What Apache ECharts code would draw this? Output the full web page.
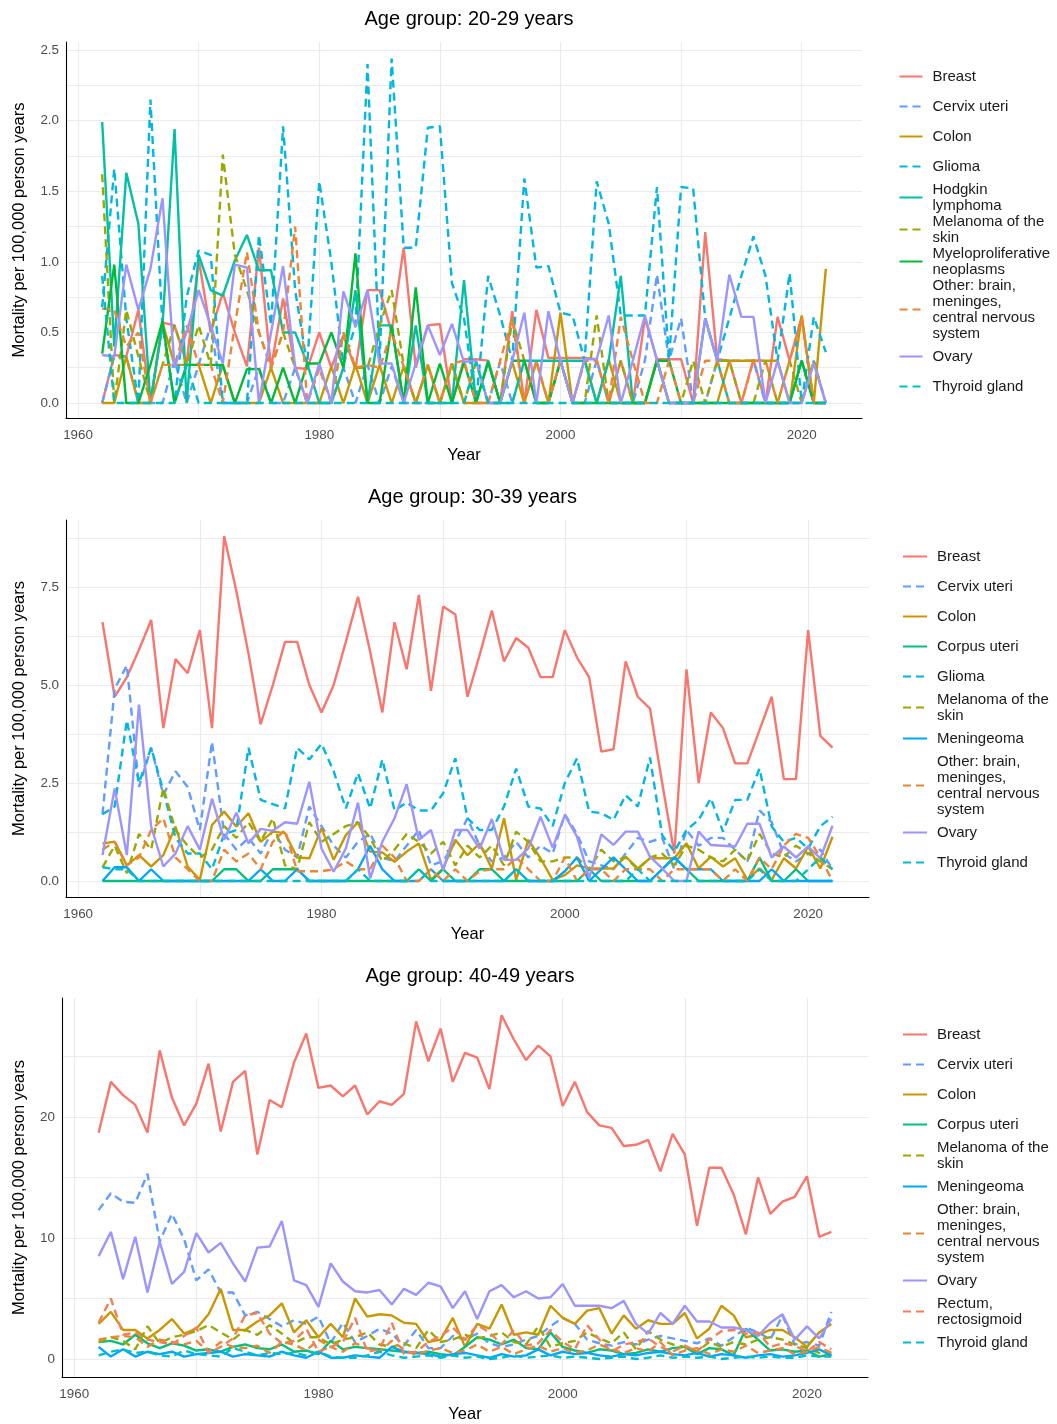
<!DOCTYPE html>
<html><head><meta charset="utf-8">
<script src="https://cdn.jsdelivr.net/npm/echarts@6/dist/echarts.min.js"></script>
<style>html,body{margin:0;padding:0;background:#fff}#chart{width:1057px;height:1424px}</style>
</head><body><div id="chart"></div>
<script>
// ---------- DATA ----------
const years = [1962,1963,1964,1965,1966,1967,1968,1969,1970,1971,1972,1973,1974,1975,1976,1977,1978,1979,1980,1981,
1982,1983,1984,1985,1986,1987,1988,1989,1990,1991,1992,1993,1994,1995,1996,1997,1998,1999,2000,2001,
2002,2003,2004,2005,2006,2007,2008,2009,2010,2011,2012,2013,2014,2015,2016,2017,2018,2019,2020,2021,2022];

const panelTitles = ['Age group: 20-29 years', 'Age group: 30-39 years', 'Age group: 40-49 years'];
const xTickLabels = [1960, 1980, 2000, 2020];
const yTickLabels1 = [0, 0.5, 1, 1.5, 2, 2.5];
const yTickLabels2 = [0, 2.5, 5, 7.5];
const yTickLabels3 = [0, 10, 20];

// Panel 1: 20-29 years
const p1_breast = [0,0.34,0.33,0.66,0,0.57,0.55,0.28,1.02,0.5, 0.78,0.5,0.26,1.1,0.25,0.74,0.25,0.24,0.5,0.25, 0.48,0.24,0.8,0.8,0.5,1.1,0.25,0.55,0.56,0, 0.31,0.31,0.3,0,0.65,0,0.66,0.32,0.32,0.32, 0.32,0.31,0,0.3,0,0.6,0.31,0.31,0.31,0, 1.21,0.31,0.3,0,0.31,0,0.61,0.3,0.61,0,0];
const p1_cervix = [0,0.33,0.33,0,0,0,0.3,0,0.27,0.55, 0,0,0,0.25,0,0,0.25,0,0,0, 0.25,0,0.27,0,0.26,0,0,0,0,0.28, 0,0,0,0.29,0,0.3,0,0,0.3,0, 0,0.3,0,0,0,0.3,0.91,0.3,0.6,0, 0,0.3,0.3,0.3,0.3,0,0,0,0,0.3,0];
const p1_colon = [0,0,0.33,0,0,0.57,0.27,0.27,0.27,0, 0.27,0,0,0,0.25,0,0,0,0,0.26, 0,0.27,0,0.27,0,0.26,0,0.27,0,0.28, 0,0,0,0,0.29,0,0.29,0,0.64,0, 0.31,0,0.31,0,0,0,0.31,0,0,0, 0,0,0.3,0.3,0.3,0.3,0.3,0,0.62,0,0.95];
const p1_glioma = [0.68,1.66,0.6,0,2.15,0.55,0,0.75,1.08,1.05, 0,0,0,1.19,0.55,1.96,0.8,0.27,1.57,1.0, 0.27,0.55,2.4,0.3,2.44,1.1,1.1,1.95,1.96,0.85, 0.6,0,0.9,0.62,0.3,1.59,0.96,0.97,0.64,0.62, 0.3,1.57,1.27,0.62,0.62,0.62,1.53,0.31,1.53,1.52, 0.6,0.3,0.6,0.9,1.18,0.9,0.3,0.92,0,0.61,0.36];
const p1_hodgkin = [1.99,0.4,1.63,1.27,0,0.55,1.94,0,1.05,0.8, 0.76,1.01,1.19,0.94,0.94,0.5,0.5,0.28,0,0, 0.25,0.8,0,0.55,0.55,0,0.55,0,0,0, 0.87,0,0.3,0,0,0.3,0.3,0.3,0.3,0.3, 0.3,0,0.3,0.9,0,0,0.3,0,0,0, 0.6,0.3,0,0,0,0,0,0,0.3,0,0];
const p1_melanoma = [1.62,0,0.66,0.33,0,0.27,0.55,0.27,0.55,0.27, 1.76,1.05,0.8,0.5,0.25,0.5,0.25,0,0.25,0, 0.5,0.25,0.25,0.55,0.8,0.27,0,0.27,0,0.27, 0,0.29,0,0,0.59,0.3,0,0,0.3,0, 0,0.62,0,0.3,0,0,0.3,0,0,0.3, 0,0.3,0.3,0,0,0.3,0,0.3,0,0.3,0];
const p1_myelo = [0.35,0.98,0,0,0.27,0.58,0,0.27,0.27,0.27, 0.27,0,0.24,0.24,0,0.25,0,0.28,0.28,0.5, 0.25,1.06,0,0,0.55,0,0.82,0,0.28,0, 0.29,0,0.29,0,0.3,0.3,0,0,0.3,0, 0,0,0,0,0,0,0.3,0.3,0,0, 0,0,0,0,0,0,0,0,0.3,0,0];
const p1_other = [0.67,0.66,0.4,0.5,0,0.27,0.27,0.55,0.27,0.27, 0,0.55,1.07,0.5,0.25,0.5,1.25,0,0.25,0, 0.5,0.25,0.27,0.25,0.5,0.26,0,0.27,0,0.28, 0.3,0,0,0.3,0.6,0,0.3,0,0.3,0, 0.3,0.3,0,0.61,0.3,0,0,0.3,0,0, 0.3,0.3,0,0,0.3,0.3,0,0.3,0.6,0,0];
const p1_ovary = [0.34,0.33,0.98,0.66,0.95,1.45,0.25,0.5,0.8,0.55, 0.28,0.98,0.96,0,0.5,0.97,0.26,0,0.28,0, 0.79,0.54,0.8,0.28,0.28,0,0.28,0.55,0.34,0.56, 0.29,0.3,0,0,0.3,0.64,0,0.65,0.3,0, 0.31,0.31,0.62,0,0.3,0.62,0.3,0,0,0, 0.6,0.3,0.91,0.61,0.61,0,0.3,0,0,0.28,0];
const p1_thyroid = [0.9,0,0,0,0,0,0,0.27,0,0, 0,0,0,0,0,0,0,0,0,0, 0,0,0,0,0,0,0,0,0,0, 0,0.29,0,0,0,0,0,0,0,0, 0,0,0,0,0,0,0,0,0,0, 0,0,0,0,0,0,0,0,0,0,0];

// Panel 2: 30-39 years
const p2_breast = [6.6,4.7,5.2,5.9,6.66,3.9,5.66,5.3,6.4,3.9, 8.8,7.4,5.8,4.0,5.0,6.1,6.1,5.0,4.3,5.0, 6.1,7.25,5.85,4.3,6.6,5.4,7.3,4.85,7.0,6.8, 4.7,5.77,6.9,5.6,6.2,5.95,5.2,5.2,6.4,5.7, 5.2,3.3,3.36,5.6,4.7,4.4,2.5,0.7,5.4,2.5, 4.3,3.9,3.0,3.0,3.85,4.7,2.6,2.6,6.4,3.7,3.4];
const p2_cervix = [1.7,4.9,5.5,2.4,3.4,2.2,2.8,2.4,1.3,3.55, 1.2,0.8,1.1,0.7,1.3,0.8,0.6,1.9,1.4,0.9, 0.6,1.0,1.2,0.6,0.5,0.9,1.3,0.4,0.5,1.0, 1.6,0.9,0.5,0.6,1.0,0.6,0.9,0.7,1.7,1.2, 0.5,0.4,0.3,0.7,1.1,1.0,1.1,0.3,1.3,0.9, 1.1,1.1,0.8,0.5,1.8,1.5,0.7,0.5,0.7,0.8,0.3];
const p2_colon = [0.96,1.0,0.4,0.66,0.37,0.66,1.39,0.37,0.03,1.43, 1.77,1.39,1.73,1.0,1.26,1.22,0.6,0.58,1.35,0.54, 1.17,1.5,0.75,0.73,0.49,0.75,0.96,0.03,0.32,1.05, 0.66,0.96,0.32,1.6,0.03,1.05,0.58,0.03,0.15,0.4, 0.32,0.32,0.32,0.62,0.32,0.58,0.58,0.58,0.96,0.32, 0.62,0.37,0.58,0.03,0.32,0.03,0.58,0.32,0.88,0.32,1.13];
const p2_corpus = [0,0,0,0,0,0,0,0,0,0, 0.3,0.3,0,0,0.3,0.3,0.3,0,0,0, 0,0,0,0,0,0,0.3,0,0.3,0, 0,0.3,0.3,0,0,0,0,0,0,0, 0.3,0,0,0,0,0,0.3,0.6,0.3,0, 0,0,0,0,0.6,0,0,0.3,0,0,0];
const p2_glioma = [1.7,1.9,4.1,2.5,3.4,2.3,1.1,0.7,0.7,0.3, 1.2,1.3,3.4,2.07,1.96,1.85,3.4,3.1,3.5,2.8, 1.85,2.75,1.85,3.1,1.8,2.0,1.8,1.8,2.24,3.13, 1.6,1.3,1.3,1.9,2.87,1.9,1.85,1.4,2.5,3.13, 1.77,1.73,1.56,2.19,1.9,3.15,1.17,0.75,1.3,1.56, 2.11,1.26,2.07,2.07,2.87,1.39,1.0,1.1,0.83,1.4,1.64];
const p2_melanoma = [0.35,0.9,0.2,1.2,0.8,2.38,1.3,0.9,0.6,0.8, 1.4,1.1,1.5,1.0,1.6,0.4,0.3,1.5,1.0,1.2, 1.4,1.5,1.1,0.5,0.8,1.2,1.0,0.7,1.0,0.4, 0.9,0.6,0.9,0.4,1.26,1.0,0.5,0.5,0.6,0.6, 0.3,0.8,0.5,0.6,0.3,0.6,0.7,0.4,0.9,0.8, 0.6,0.5,0.8,0.5,1.2,0.7,0.6,0.9,0.7,0.5,0.3];
const p2_meningeoma = [0,0.35,0.35,0,0.3,0,0,0,0,0, 0,0,0,0.3,0,0,0.3,0,0,0, 0,0.3,0.9,0.3,0,0,0,0.3,0,0, 0,0,0,0,0.3,0,0,0,0.25,0.6, 0,0.3,0.6,0.3,0,0,0.3,0.6,0.3,0.3, 0.3,0,0,0,0,0.3,0,0,0,0,0];
const p2_other = [0.8,1.0,0.4,0.6,1.3,1.6,0.6,0.3,0,0, 0.8,0.5,0.7,0.3,1.0,1.3,0.25,0.25,0.25,0.3, 0.5,0.3,0.3,0.9,0.6,0,0,0.3,0,0.3, 0,0.25,0.3,0.3,0.6,0.3,0,0,0.6,0, 0.3,0.3,0,0.3,0.3,0.3,0,0.3,0.3,0.3, 0.3,0,0.3,0,0.6,0.3,0.9,1.2,1.1,0.6,0];
const p2_ovary = [0.66,2.36,0.66,4.5,1.39,0.37,0.7,1.4,0.8,2.1, 1.05,1.74,0.96,1.33,1.28,1.5,1.46,2.53,0.83,0.24, 0.83,2.0,0.07,1.0,1.6,2.47,1.05,1.3,0.28,1.3, 1.3,0.83,1.58,0.54,0.54,0.83,1.64,0.85,1.68,1.13, 0.07,1.19,0.92,1.26,1.26,0.62,0.32,0,0,1.26, 0.92,0.9,0.88,1.46,1.46,0.6,0.88,0.6,0.88,0.58,1.41];
const p2_thyroid = [0.35,0.3,0.3,0,0,0,0,0,0,0, 0,0,0,0,0,0,0,0,0,0, 0,0.3,0,0,0,0,0.3,0,0,0, 0,0,0,0,0.3,0,0,0,0,0, 0,0,0,0,0.3,0,0,0,0,0, 0,0,0,0,0.3,0,0,0,0.3,0.6,0.3];

// Panel 3: 40-49 years
const p3_breast = [18.7,22.9,21.8,21.0,18.7,25.5,21.6,19.3,21.1,24.4, 18.8,22.9,23.8,16.9,21.4,20.8,24.5,26.9,22.4,22.6, 21.7,22.6,20.2,21.3,21.0,21.9,27.9,24.6,27.3,22.9, 25.3,24.9,22.3,28.4,26.4,24.7,25.9,25.0,20.9,22.9, 20.4,19.3,19.1,17.6,17.7,18.1,15.5,18.6,16.9,11.0, 15.8,15.8,13.6,10.3,15.0,12.0,13.0,13.4,15.1,10.1,10.5];
const p3_cervix = [12.3,13.7,13.0,12.9,15.3,9.7,12.0,9.9,6.5,7.4, 5.5,5.5,3.6,3.9,3.3,2.7,3.2,2.9,3.5,1.3, 3.0,1.4,1.9,2.5,2.1,1.1,2.4,0.9,0.9,1.9, 1.6,2.1,1.3,1.0,1.2,1.6,1.9,2.7,3.4,2.9, 1.6,1.3,1.1,1.4,1.2,1.6,1.9,1.7,1.5,1.3, 1.7,1.1,1.8,2.6,2.2,1.6,3.6,1.2,1.4,1.1,3.9];
const p3_colon = [2.9,3.9,2.4,2.4,1.7,2.4,3.3,2.1,2.5,3.7, 5.8,2.4,2.4,3.1,3.6,4.6,2.2,3.2,1.8,2.9, 1.8,5.0,3.5,3.7,3.6,3.0,2.9,1.4,1.6,3.4, 1.0,2.9,2.5,4.5,2.0,2.2,2.0,4.4,3.4,2.9, 4.0,4.2,2.1,3.6,2.5,3.2,2.9,2.9,3.8,1.7, 2.5,4.4,3.6,1.8,2.0,2.4,2.4,1.8,1.0,2.2,2.9];
const p3_corpus = [1.4,1.5,1.2,2.0,1.3,0.9,1.3,1.1,0.7,0.8, 0.6,1.0,1.2,0.9,0.8,1.2,0.6,0.7,0.4,1.5, 0.8,1.0,0.9,0.8,0.7,0.6,0.5,0.6,0.4,0.3, 1.0,1.8,1.6,1.2,1.6,0.9,0.8,2.2,1.0,0.7, 0.5,0.8,0.7,0.4,0.5,0.8,0.6,0.9,1.0,0.4, 0.9,0.8,0.3,2.5,1.6,0.7,0.8,0.6,0.7,0.2,0.4];
const p3_melanoma = [1.4,1.8,1.5,0.8,2.7,1.3,1.8,2.0,2.3,2.8, 2.2,1.6,2.4,2.0,2.8,2.1,1.3,1.8,1.8,1.2, 1.6,1.8,2.2,1.2,1.0,1.3,0.9,2.4,1.4,1.6, 2.0,1.7,1.9,2.2,1.4,1.2,2.7,1.0,1.3,1.5, 2.2,1.7,1.3,2.2,0.8,2.3,1.6,1.2,1.0,0.6, 1.4,1.0,1.4,1.2,1.6,1.8,1.6,1.2,0.9,0.5,0.3];
const p3_meningeoma = [1.0,0.2,0.8,0.2,0.6,0.4,0.6,0.2,0.4,0.5, 0.6,0.2,0.4,0.3,0.2,0.6,0.3,0.1,0.6,0.1, 0.1,0.3,0.2,0.1,1.0,0.6,0.5,0.4,0.2,0.4, 0.5,0.3,0.1,0.4,0.2,0.3,0.8,0.3,0.6,0.4, 0.5,0.3,0.2,0.4,0.3,0.5,0.6,0.4,0.3,0.5, 0.2,0.4,0.3,0.1,0.3,0.4,0.2,0.3,0.5,0.8,0.3];
const p3_other = [1.6,1.8,1.9,1.8,1.0,1.6,1.4,1.2,1.5,0.6, 1.4,1.0,0.9,1.1,0.5,1.4,1.2,0.7,1.6,1.0, 0.6,1.3,0.9,0.6,1.5,0.8,0.3,0.7,0.9,0.5, 0.7,1.2,0.6,1.0,0.4,0.8,1.1,0.6,0.9,0.5, 0.7,1.2,0.8,0.5,0.9,0.6,1.4,0.3,0.7,0.9, 0.4,0.8,0.6,1.1,0.5,0.7,0.9,0.4,0.6,1.0,0.5];
const p3_ovary = [8.5,10.5,6.6,10.1,5.5,9.7,6.2,7.2,10.4,8.8, 9.6,7.9,6.4,9.2,9.3,11.4,6.5,6.1,4.3,7.9, 6.4,5.6,5.5,5.7,4.5,5.8,5.3,6.3,6.0,4.2, 5.6,3.3,5.6,6.1,5.1,5.6,5.0,5.1,6.2,4.4, 4.4,4.4,4.2,4.8,2.9,2.1,3.8,2.9,4.4,3.1, 3.1,2.6,2.6,2.4,1.9,3.0,3.7,1.6,2.7,1.7,3.3];
const p3_rectum = [3.0,5.0,2.0,2.2,1.6,1.4,1.2,1.9,2.6,0.5, 1.0,1.7,3.6,3.8,2.1,1.3,1.5,2.5,0.6,1.0, 1.4,3.4,0.6,0.8,3.0,0.4,0.6,1.4,1.9,2.6, 1.6,2.8,2.2,1.2,2.4,1.1,1.3,2.4,1.4,0.8, 2.8,1.6,0.6,1.2,1.4,1.7,1.0,0.6,1.1,0.6, 1.6,2.3,2.4,2.1,2.2,1.0,1.3,1.1,0.6,1.4,0.8];
const p3_thyroid = [0.3,0.6,0.8,0.5,0.6,0.3,0.2,0.7,0.4,0.3, 0.2,0.9,0.6,0.3,0.5,0.4,0.5,0.3,0.6,0.2, 0.1,0.1,0.3,0.6,0.3,0.1,0.2,0.3,0.1,0.3, 0.1,0.2,0,0.1,0.3,0.1,0.2,0.3,0.1,0.2, 0.1,0,0.1,0.2,0,0.1,0.3,0.1,0.2,0.1, 0.2,0,0.1,0.2,0.1,0.2,0.1,0.1,0.3,0.2,0.2];

const N_BREAST='Breast', N_CERVIX='Cervix uteri', N_COLON='Colon', N_CORPUS='Corpus uteri', N_GLIOMA='Glioma',
  N_HODGKIN='Hodgkin lymphoma', N_MEL='Melanoma of the skin', N_MEN='Meningeoma', N_MYELO='Myeloproliferative neoplasms',
  N_OTHER='Other: brain, meninges, central nervous system', N_OVARY='Ovary', N_RECTUM='Rectum, rectosigmoid', N_THY='Thyroid gland';

const panel1 = [[N_BREAST,p1_breast],[N_CERVIX,p1_cervix],[N_COLON,p1_colon],[N_GLIOMA,p1_glioma],[N_HODGKIN,p1_hodgkin],
  [N_MEL,p1_melanoma],[N_MYELO,p1_myelo],[N_OTHER,p1_other],[N_OVARY,p1_ovary],[N_THY,p1_thyroid]];
const panel2 = [[N_BREAST,p2_breast],[N_CERVIX,p2_cervix],[N_COLON,p2_colon],[N_CORPUS,p2_corpus],[N_GLIOMA,p2_glioma],
  [N_MEL,p2_melanoma],[N_MEN,p2_meningeoma],[N_OTHER,p2_other],[N_OVARY,p2_ovary],[N_THY,p2_thyroid]];
const panel3 = [[N_BREAST,p3_breast],[N_CERVIX,p3_cervix],[N_COLON,p3_colon],[N_CORPUS,p3_corpus],[N_MEL,p3_melanoma],
  [N_MEN,p3_meningeoma],[N_OTHER,p3_other],[N_OVARY,p3_ovary],[N_RECTUM,p3_rectum],[N_THY,p3_thyroid]];

// ---------- STYLE ----------
const COLORS = {};
COLORS[N_BREAST]='#F8766D'; COLORS[N_CERVIX]='#619CFF'; COLORS[N_COLON]='#C99800'; COLORS[N_CORPUS]='#00C07B';
COLORS[N_GLIOMA]='#00B6E2'; COLORS[N_HODGKIN]='#00C1A3'; COLORS[N_MEL]='#9AA800'; COLORS[N_MEN]='#00A6FF';
COLORS[N_MYELO]='#00BA38'; COLORS[N_OTHER]='#EC8535'; COLORS[N_OVARY]='#9C94FF'; COLORS[N_RECTUM]='#F27F59'; COLORS[N_THY]='#00BFC4';
const DASHED = new Set([N_CERVIX,N_GLIOMA,N_MEL,N_OTHER,N_RECTUM,N_THY]);
const WRAP = {};
WRAP[N_HODGKIN]='Hodgkin\nlymphoma'; WRAP[N_MEL]='Melanoma of the\nskin'; WRAP[N_MYELO]='Myeloproliferative\nneoplasms';
WRAP[N_OTHER]='Other: brain,\nmeninges,\ncentral nervous\nsystem'; WRAP[N_RECTUM]='Rectum,\nrectosigmoid';

const FONT = '"Liberation Sans", Arial, Helvetica, sans-serif';
const panels = [panel1, panel2, panel3];
const grids = [
  {left:66, top:42, width:796, height:376},
  {left:66, top:520, width:803, height:377},
  {left:62, top:998, width:806, height:379}
];
const yExt = [[-0.106, 2.557], [-0.408, 9.209], [-1.488, 29.83]];
const yMajors = [yTickLabels1, yTickLabels2, yTickLabels3];
const yMinors = [[0.25,0.75,1.25,1.75,2.25],[1.25,3.75,6.25,8.75],[5,15,25]];
const yFmt = [v=>v.toFixed(1), v=>v.toFixed(1), v=>String(v)];
const yNameGap = [38, 38, 34];
const legendPos = [{left:896, top:61.5, w:23},{left:900, top:541.5, w:24},{left:900, top:1019.5, w:24}];

const chart = echarts.init(document.getElementById('chart'), null, {renderer:'canvas'});
const series = [], xAxis = [], yAxis = [], legend = [], title = [];
panels.forEach((panel, i) => {
  const g = grids[i];
  title.push({text: panelTitles[i], left: g.left + g.width/2, top: [4,482,961][i], textAlign:'center',
    textStyle:{fontSize:20, fontWeight:'normal', color:'#000', fontFamily:FONT}});
  xAxis.push({type:'value', gridIndex:i, min:1959, max:2025,
    axisLine:{show:true, onZero:false, lineStyle:{color:'#000', width:1.1}},
    axisTick:{show:false, customValues:[1960,1970,1980,1990,2000,2010,2020]},
    axisLabel:{customValues:xTickLabels, color:'#4D4D4D', fontSize:13.4, fontFamily:FONT, margin:11, formatter:v=>String(v)},
    splitLine:{show:true, lineStyle:{color:'#EBEBEB', width:1.1}},
    name:'Year', nameLocation:'middle', nameGap:29, nameTextStyle:{fontSize:16.5, color:'#000', fontFamily:FONT}});
  yAxis.push({type:'value', gridIndex:i, min:yExt[i][0], max:yExt[i][1],
    axisLine:{show:true, onZero:false, lineStyle:{color:'#000', width:1.1}},
    axisTick:{show:false, customValues:yMajors[i].concat(yMinors[i]).sort((a,b)=>a-b)},
    axisLabel:{customValues:yMajors[i], color:'#4D4D4D', fontSize:13.4, fontFamily:FONT, margin:7, formatter:yFmt[i]},
    splitLine:{show:true, lineStyle:{color:'#EBEBEB', width:1.1}},
    name:'Mortality per 100,000 person years', nameLocation:'middle', nameGap:yNameGap[i],
    nameTextStyle:{fontSize:16.5, color:'#000', fontFamily:FONT}});
  const lp = legendPos[i];
  legend.push({orient:'vertical', left:lp.left, top:lp.top, padding:0, itemGap:0, itemWidth:lp.w, itemHeight:37.5,
    data: panel.map(p=>p[0]), selectedMode:false,
    itemStyle:{opacity:0},
    formatter: n => WRAP[n] || n,
    textStyle:{fontSize:15, lineHeight:16, color:'#1A1A1A', fontFamily:FONT, padding:[0,0,0,5]}});
  panel.forEach(([name, arr]) => {
    series.push({type:'line', name, xAxisIndex:i, yAxisIndex:i, symbol:'circle', showSymbol:false, silent:true, animation:false,
      data: years.map((y,k)=>[y, arr[k]]),
      itemStyle:{color:COLORS[name]},
      lineStyle:{color:COLORS[name], width:2.4, type: DASHED.has(name) ? [8,5] : 'solid'}});
  });
});

chart.setOption({backgroundColor:'#fff', animation:false, textStyle:{fontFamily:FONT},
  title, grid: grids, xAxis, yAxis, legend, series});
</script></body></html>
